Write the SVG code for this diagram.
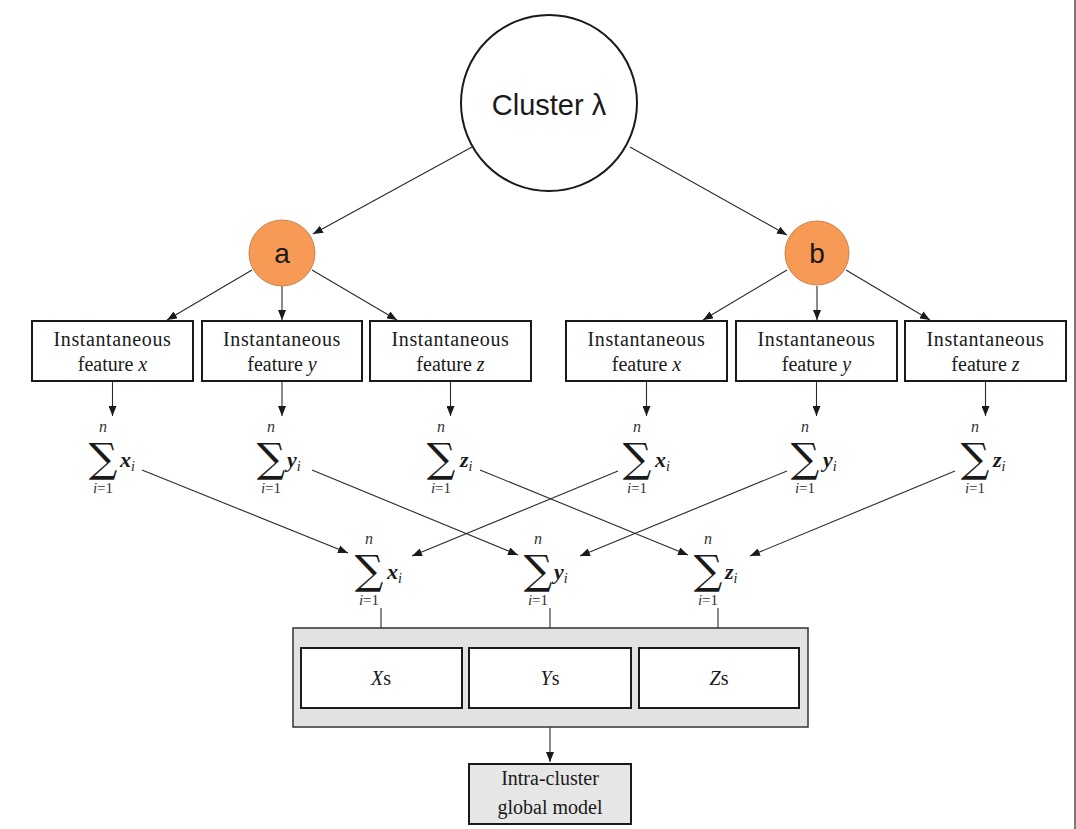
<svg xmlns="http://www.w3.org/2000/svg" width="1076" height="829" viewBox="0 0 1076 829">
  <defs>
    <marker id="arrow" markerUnits="userSpaceOnUse" markerWidth="10" markerHeight="8" refX="10" refY="4" orient="auto">
      <path d="M0,0 L10,4 L0,8 z" fill="#1a1a1a"/>
    </marker>
    <style>
      .box { fill: #ffffff; stroke: #1a1a1a; stroke-width: 2; }
      .gray { fill: #e2e2e2; stroke: #333333; stroke-width: 1.5; }
      .final { fill: #e6e6e6; stroke: #1a1a1a; stroke-width: 2; }
      .dot { fill: #f79a56; stroke: #c98350; stroke-width: 1; }
      .edge { fill: none; stroke: #2a2a2a; stroke-width: 1.1; marker-end: url(#arrow); }
      .lbl { font-family: "Liberation Serif", "DejaVu Serif", serif; font-size: 20px; fill: #1a1a1a; text-anchor: middle; }
      .wide { letter-spacing: 0.6px; }
      .sans { font-family: "Liberation Sans", Arial, sans-serif; fill: #1a1a1a; text-anchor: middle; }
      .sig { font-family: "DejaVu Serif", serif; font-size: 40px; fill: #1a1a1a; text-anchor: middle; }
      .lim { font-family: "Liberation Serif", serif; font-size: 15px; fill: #333333; text-anchor: middle; }
      .top { font-size: 16px; font-style: italic; }
      .var { font-family: "Liberation Serif", serif; font-size: 22px; font-style: italic; font-weight: bold; fill: #1a1a1a; }
      .sub { font-family: "Liberation Serif", serif; font-size: 14px; font-style: italic; font-weight: normal; fill: #1a1a1a; }
    </style>
  </defs>

  <rect width="1076" height="829" fill="#ffffff"/>
  <rect x="1074" y="0" width="2" height="829" fill="#7a7a7a"/>

  <!-- connectors -->
  <g id="connectors">
    <line class="edge" x1="472" y1="147" x2="313" y2="234"/>
    <line class="edge" x1="630" y1="147" x2="787" y2="235"/>

    <line class="edge" x1="252" y1="270" x2="167" y2="320"/>
    <line class="edge" x1="282" y1="286" x2="282" y2="320"/>
    <line class="edge" x1="312" y1="270" x2="397" y2="320"/>
    <line class="edge" x1="787" y1="270" x2="703" y2="320"/>
    <line class="edge" x1="817" y1="286" x2="817" y2="320"/>
    <line class="edge" x1="846" y1="270" x2="930" y2="320"/>

    <line class="edge" x1="112.5" y1="382" x2="112.5" y2="416"/>
    <line class="edge" x1="282" y1="382" x2="282" y2="416"/>
    <line class="edge" x1="450.5" y1="382" x2="450.5" y2="416"/>
    <line class="edge" x1="646.5" y1="382" x2="646.5" y2="416"/>
    <line class="edge" x1="816.5" y1="382" x2="816.5" y2="416"/>
    <line class="edge" x1="985.5" y1="382" x2="985.5" y2="416"/>

    <line class="edge" x1="142" y1="470" x2="348" y2="553"/>
    <line class="edge" x1="312" y1="470" x2="518" y2="555"/>
    <line class="edge" x1="480" y1="470" x2="688" y2="555"/>
    <line class="edge" x1="618" y1="471" x2="412" y2="556"/>
    <line class="edge" x1="787" y1="471" x2="580" y2="556"/>
    <line class="edge" x1="955" y1="471" x2="750" y2="556"/>

    <line class="edge" x1="381" y1="608" x2="381" y2="645"/>
    <line class="edge" x1="550" y1="608" x2="550" y2="645"/>
    <line class="edge" x1="718" y1="608" x2="718" y2="645"/>

    <line class="edge" x1="550" y1="727" x2="550" y2="762"/>
  </g>

  <!-- top cluster -->
  <g id="cluster">
    <circle cx="549" cy="103" r="88" fill="#ffffff" stroke="#1a1a1a" stroke-width="2"/>
    <text class="sans" x="549" y="115" font-size="29">Cluster λ</text>
  </g>

  <g id="node-a">
    <circle class="dot" cx="282" cy="253" r="33"/>
    <text class="sans" x="282" y="263" font-size="28">a</text>
  </g>
  <g id="node-b">
    <circle class="dot" cx="817" cy="253" r="32"/>
    <text class="sans" x="817" y="263" font-size="28">b</text>
  </g>

  <!-- feature boxes -->
  <g id="feat-a-x">
    <rect class="box" x="32" y="321" width="161" height="60"/>
    <text class="lbl wide" x="112.5" y="346">Instantaneous</text>
    <text class="lbl" x="112.5" y="371">feature <tspan font-style="italic">x</tspan></text>
  </g>
  <g id="feat-a-y">
    <rect class="box" x="202" y="321" width="160" height="60"/>
    <text class="lbl wide" x="282" y="346">Instantaneous</text>
    <text class="lbl" x="282" y="371">feature <tspan font-style="italic">y</tspan></text>
  </g>
  <g id="feat-a-z">
    <rect class="box" x="370" y="321" width="161" height="60"/>
    <text class="lbl wide" x="450.5" y="346">Instantaneous</text>
    <text class="lbl" x="450.5" y="371">feature <tspan font-style="italic">z</tspan></text>
  </g>
  <g id="feat-b-x">
    <rect class="box" x="566" y="321" width="161" height="60"/>
    <text class="lbl wide" x="646.5" y="346">Instantaneous</text>
    <text class="lbl" x="646.5" y="371">feature <tspan font-style="italic">x</tspan></text>
  </g>
  <g id="feat-b-y">
    <rect class="box" x="736" y="321" width="161" height="60"/>
    <text class="lbl wide" x="816.5" y="346">Instantaneous</text>
    <text class="lbl" x="816.5" y="371">feature <tspan font-style="italic">y</tspan></text>
  </g>
  <g id="feat-b-z">
    <rect class="box" x="905" y="321" width="161" height="60"/>
    <text class="lbl wide" x="985.5" y="346">Instantaneous</text>
    <text class="lbl" x="985.5" y="371">feature <tspan font-style="italic">z</tspan></text>
  </g>

  <!-- per-feature sums (row 1) -->
  <g id="sum-a-x" transform="translate(103,0)">
    <text class="lim top" x="0" y="432">n</text>
    <text class="sig" x="0" y="472">∑</text>
    <text class="lim" x="0" y="493"><tspan font-style="italic">i</tspan>=1</text>
    <text class="var" x="17" y="467">x<tspan class="sub" dy="4">i</tspan></text>
  </g>
  <g id="sum-a-y" transform="translate(271,0)">
    <text class="lim top" x="0" y="432">n</text>
    <text class="sig" x="0" y="472">∑</text>
    <text class="lim" x="0" y="493"><tspan font-style="italic">i</tspan>=1</text>
    <text class="var" x="16" y="467">y<tspan class="sub" dy="4">i</tspan></text>
  </g>
  <g id="sum-a-z" transform="translate(441,0)">
    <text class="lim top" x="0" y="432">n</text>
    <text class="sig" x="0" y="472">∑</text>
    <text class="lim" x="0" y="493"><tspan font-style="italic">i</tspan>=1</text>
    <text class="var" x="19" y="467">z<tspan class="sub" dy="4">i</tspan></text>
  </g>
  <g id="sum-b-x" transform="translate(637,0)">
    <text class="lim top" x="0" y="432">n</text>
    <text class="sig" x="0" y="472">∑</text>
    <text class="lim" x="0" y="493"><tspan font-style="italic">i</tspan>=1</text>
    <text class="var" x="18" y="467">x<tspan class="sub" dy="4">i</tspan></text>
  </g>
  <g id="sum-b-y" transform="translate(805,0)">
    <text class="lim top" x="0" y="432">n</text>
    <text class="sig" x="0" y="472">∑</text>
    <text class="lim" x="0" y="493"><tspan font-style="italic">i</tspan>=1</text>
    <text class="var" x="18" y="467">y<tspan class="sub" dy="4">i</tspan></text>
  </g>
  <g id="sum-b-z" transform="translate(975,0)">
    <text class="lim top" x="0" y="432">n</text>
    <text class="sig" x="0" y="472">∑</text>
    <text class="lim" x="0" y="493"><tspan font-style="italic">i</tspan>=1</text>
    <text class="var" x="18" y="467">z<tspan class="sub" dy="4">i</tspan></text>
  </g>

  <!-- merged sums (row 2) -->
  <g id="sum-x" transform="translate(369,0)">
    <text class="lim top" x="0" y="544">n</text>
    <text class="sig" x="0" y="584">∑</text>
    <text class="lim" x="0" y="605"><tspan font-style="italic">i</tspan>=1</text>
    <text class="var" x="18" y="579">x<tspan class="sub" dy="4">i</tspan></text>
  </g>
  <g id="sum-y" transform="translate(538,0)">
    <text class="lim top" x="0" y="544">n</text>
    <text class="sig" x="0" y="584">∑</text>
    <text class="lim" x="0" y="605"><tspan font-style="italic">i</tspan>=1</text>
    <text class="var" x="16" y="579">y<tspan class="sub" dy="4">i</tspan></text>
  </g>
  <g id="sum-z" transform="translate(708,0)">
    <text class="lim top" x="0" y="544">n</text>
    <text class="sig" x="0" y="584">∑</text>
    <text class="lim" x="0" y="605"><tspan font-style="italic">i</tspan>=1</text>
    <text class="var" x="17" y="579">z<tspan class="sub" dy="4">i</tspan></text>
  </g>

  <!-- collected feature sets -->
  <g id="feature-sets">
    <rect class="gray" x="293" y="628" width="515" height="99"/>
    <g id="set-x">
      <rect class="box" x="301" y="648" width="161" height="60"/>
      <text class="lbl" x="381" y="685" font-size="22"><tspan font-style="italic">X</tspan>s</text>
    </g>
    <g id="set-y">
      <rect class="box" x="469" y="648" width="162" height="60"/>
      <text class="lbl" x="550" y="685" font-size="22"><tspan font-style="italic">Υ</tspan>s</text>
    </g>
    <g id="set-z">
      <rect class="box" x="639" y="648" width="160" height="60"/>
      <text class="lbl" x="719" y="685" font-size="22"><tspan font-style="italic">Z</tspan>s</text>
    </g>
  </g>

  <g id="global-model">
    <rect class="final" x="469" y="764" width="162" height="60"/>
    <text class="lbl" x="550" y="785">Intra-cluster</text>
    <text class="lbl" x="550" y="814">global model</text>
  </g>
</svg>
